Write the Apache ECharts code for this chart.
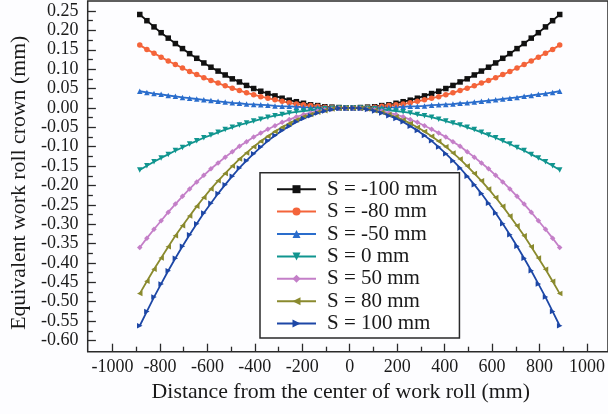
<!DOCTYPE html>
<html>
<head>
<meta charset="utf-8">
<script src="https://cdn.jsdelivr.net/npm/echarts@6/dist/echarts.min.js"></script>
<style>
  html, body { margin: 0; padding: 0; background: #fdfdff; }
  #crown { width: 608px; height: 414px; }
</style>
</head>
<body>
<div id="crown"></div>
<script>
// distance from roll centre (mm)
var xPos = [-885,-855,-825,-795,-765,-735,-705,-675,-645,-615,-585,-555,-525,-495,-465,-435,-405,-375,-345,-315,-285,-255,-225,-195,-165,-135,-105,-75,-45,-15,
            15,45,75,105,135,165,195,225,255,285,315,345,375,405,435,465,495,525,555,585,615,645,675,705,735,765,795,825,855,885];

var seriesNames = ['S = -100 mm', 'S = -80 mm', 'S = -50 mm', 'S = 0 mm', 'S = 50 mm', 'S = 80 mm', 'S = 100 mm'];

// equivalent crown (mm)
var sM100 = [0.241,0.225,0.209,0.194,0.180,0.166,0.153,0.140,0.128,0.116,0.105,0.095,0.085,0.075,0.067,0.058,0.050,0.043,0.037,0.031,0.025,0.020,0.016,0.012,0.008,0.006,0.003,0.002,0.001,0.000,
             0.000,0.001,0.002,0.003,0.006,0.008,0.012,0.016,0.020,0.025,0.031,0.037,0.043,0.050,0.058,0.067,0.075,0.085,0.095,0.105,0.116,0.128,0.140,0.153,0.166,0.180,0.194,0.209,0.225,0.241];
var sM80 = [0.162,0.151,0.141,0.131,0.121,0.112,0.103,0.094,0.086,0.078,0.071,0.064,0.057,0.051,0.045,0.039,0.034,0.029,0.025,0.021,0.017,0.013,0.010,0.008,0.006,0.004,0.002,0.001,0.000,0.000,
            0.000,0.000,0.001,0.002,0.004,0.006,0.008,0.010,0.013,0.017,0.021,0.025,0.029,0.034,0.039,0.045,0.051,0.057,0.064,0.071,0.078,0.086,0.094,0.103,0.112,0.121,0.131,0.141,0.151,0.162];
var sM50 = [0.043,0.040,0.037,0.035,0.032,0.030,0.027,0.025,0.023,0.021,0.019,0.017,0.015,0.013,0.012,0.010,0.009,0.008,0.007,0.005,0.004,0.004,0.003,0.002,0.001,0.001,0.001,0.000,0.000,0.000,
            0.000,0.000,0.000,0.001,0.001,0.001,0.002,0.003,0.004,0.004,0.005,0.007,0.008,0.009,0.010,0.012,0.013,0.015,0.017,0.019,0.021,0.023,0.025,0.027,0.030,0.032,0.035,0.037,0.040,0.043];
var s0 = [-0.160,-0.149,-0.139,-0.129,-0.120,-0.110,-0.102,-0.093,-0.085,-0.077,-0.070,-0.063,-0.056,-0.050,-0.044,-0.039,-0.034,-0.029,-0.024,-0.020,-0.017,-0.013,-0.010,-0.008,-0.006,-0.004,-0.002,-0.001,0.000,0.000,
          0.000,0.000,-0.001,-0.002,-0.004,-0.006,-0.008,-0.010,-0.013,-0.017,-0.020,-0.024,-0.029,-0.034,-0.039,-0.044,-0.050,-0.056,-0.063,-0.070,-0.077,-0.085,-0.093,-0.102,-0.110,-0.120,-0.129,-0.139,-0.149,-0.160];
var s50 = [-0.360,-0.336,-0.313,-0.291,-0.269,-0.248,-0.228,-0.209,-0.191,-0.174,-0.157,-0.142,-0.127,-0.113,-0.099,-0.087,-0.075,-0.065,-0.055,-0.046,-0.037,-0.030,-0.023,-0.017,-0.013,-0.008,-0.005,-0.003,-0.001,0.000,
           0.000,-0.001,-0.003,-0.005,-0.008,-0.013,-0.017,-0.023,-0.030,-0.037,-0.046,-0.055,-0.065,-0.075,-0.087,-0.099,-0.113,-0.127,-0.142,-0.157,-0.174,-0.191,-0.209,-0.228,-0.248,-0.269,-0.291,-0.313,-0.336,-0.360];
var s80 = [-0.479,-0.447,-0.416,-0.387,-0.358,-0.330,-0.304,-0.279,-0.254,-0.231,-0.209,-0.188,-0.169,-0.150,-0.132,-0.116,-0.100,-0.086,-0.073,-0.061,-0.050,-0.040,-0.031,-0.023,-0.017,-0.011,-0.007,-0.003,-0.001,0.000,
           0.000,-0.001,-0.003,-0.007,-0.011,-0.017,-0.023,-0.031,-0.040,-0.050,-0.061,-0.073,-0.086,-0.100,-0.116,-0.132,-0.150,-0.169,-0.188,-0.209,-0.231,-0.254,-0.279,-0.304,-0.330,-0.358,-0.387,-0.416,-0.447,-0.479];
var s100 = [-0.562,-0.525,-0.488,-0.454,-0.420,-0.388,-0.357,-0.327,-0.299,-0.271,-0.246,-0.221,-0.198,-0.176,-0.155,-0.136,-0.118,-0.101,-0.085,-0.071,-0.058,-0.047,-0.036,-0.027,-0.020,-0.013,-0.008,-0.004,-0.001,0.000,
            0.000,-0.001,-0.004,-0.008,-0.013,-0.020,-0.027,-0.036,-0.047,-0.058,-0.071,-0.085,-0.101,-0.118,-0.136,-0.155,-0.176,-0.198,-0.221,-0.246,-0.271,-0.299,-0.327,-0.357,-0.388,-0.420,-0.454,-0.488,-0.525,-0.562];

var allValues = [sM100, sM80, sM50, s0, s50, s80, s100];
var colors = ['#111111', '#f4643a', '#2a6dcc', '#10958f', '#c47fc8', '#8a8a2e', '#1d47a6'];
var symbols = ['rect', 'circle', 'triangle', 'path://M0,0 L10,0 L5,9 Z', 'diamond',
               'path://M10,0 L10,10 L1,5 Z', 'path://M0,0 L9,5 L0,10 Z'];

var font = 'Liberation Serif, Times New Roman, serif';
var ink = '#1a1a1a';

var chart = echarts.init(document.getElementById('crown'), null, {renderer: 'canvas'});

var series = allValues.map(function (vals, i) {
    return {
        name: seriesNames[i],
        type: 'line',
        xAxisIndex: 0,
        yAxisIndex: 0,
        data: xPos.map(function (x, j) { return [x, vals[j]]; }),
        symbol: symbols[i],
        symbolSize: 5.5,
        showSymbol: true,
        lineStyle: {color: colors[i], width: 1.8},
        itemStyle: {color: colors[i]},
        animation: false,
        z: 3
    };
});

chart.setOption({
    backgroundColor: '#fdfdff',
    animation: false,
    grid: [
        // data area: the span between the labelled ticks
        {left: 112.3, right: 20.7, top: 11, bottom: 73.5},
        // outer frame
        {left: 87.7, right: -4, top: 1, bottom: 62.3, show: true,
         borderColor: '#2a2a2a', borderWidth: 1.5, backgroundColor: 'transparent'}
    ],
    legend: {
        orient: 'vertical',
        left: 260,
        top: 172.7,
        padding: [6, 22, 4, 16],
        itemWidth: 39,
        itemHeight: 10,
        itemGap: 1.4,
        borderColor: '#2a2a2a',
        borderWidth: 1.5,
        backgroundColor: '#ffffff',
        textStyle: {fontFamily: font, fontSize: 21, lineHeight: 21, color: ink, padding: [0, 0, 0, 6]},
        data: seriesNames
    },
    xAxis: [
        {
            gridIndex: 0,
            type: 'value',
            min: -1000,
            max: 1000,
            interval: 200,
            position: 'bottom',
            offset: 11.2,
            name: 'Distance from the center of work roll (mm)',
            nameLocation: 'middle',
            nameGap: 28,
            nameTextStyle: {fontFamily: font, fontSize: 21.8, color: ink, padding: [0, 18, 0, 0]},
            axisLine: {show: false, onZero: false},
            axisTick: {show: true, inside: true, length: 8, lineStyle: {color: '#2a2a2a', width: 1.3}},
            minorTick: {show: true, splitNumber: 2, length: 5, lineStyle: {color: '#2a2a2a', width: 1.3}},
            splitLine: {show: false},
            axisLabel: {
                fontFamily: font, fontSize: 18, color: ink, margin: 7,
                formatter: function (v) { return String(v); }
            }
        },
        {gridIndex: 1, type: 'value', min: 0, max: 1, show: false}
    ],
    yAxis: [
        {
            gridIndex: 0,
            type: 'value',
            min: -0.6,
            max: 0.25,
            interval: 0.05,
            position: 'left',
            offset: 24.6,
            name: 'Equivalent work roll crown (mm)',
            nameLocation: 'middle',
            nameGap: 55,
            nameTextStyle: {fontFamily: font, fontSize: 21.8, color: ink, padding: [0, 14, 0, 0]},
            axisLine: {show: false, onZero: false},
            axisTick: {show: true, inside: true, length: 8, lineStyle: {color: '#2a2a2a', width: 1.3}},
            minorTick: {show: true, splitNumber: 2, length: 5, lineStyle: {color: '#2a2a2a', width: 1.3}},
            splitLine: {show: false},
            axisLabel: {
                fontFamily: font, fontSize: 18, color: ink, margin: 9.5,
                formatter: function (v) { return v.toFixed(2); }
            }
        },
        {gridIndex: 1, type: 'value', min: 0, max: 1, show: false}
    ],
    series: series
});
</script>
</body>
</html>
